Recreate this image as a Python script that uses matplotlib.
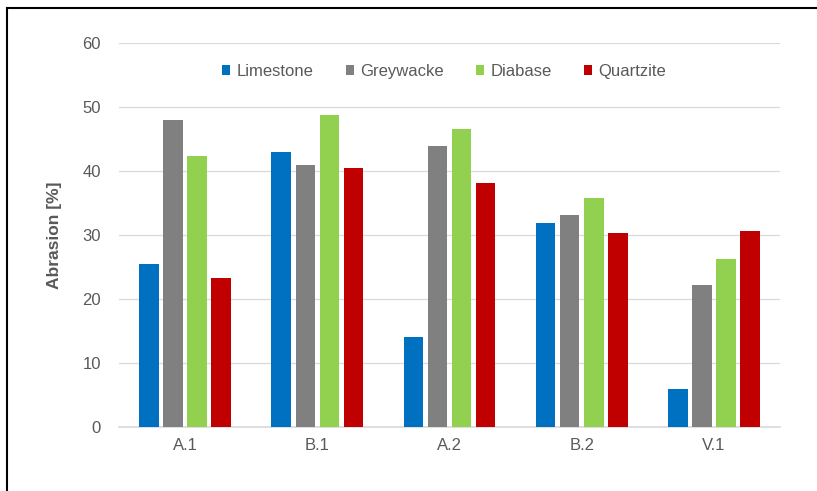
import matplotlib.pyplot as plt
import numpy as np
from matplotlib.patches import Rectangle

plt.rcParams['font.family'] = ['Liberation Sans', 'DejaVu Sans']

# abrasion results per test site
sites = ['A.1', 'B.1', 'A.2', 'B.2', 'V.1']
limestone = [25.5, 43.0, 14.1, 31.9, 5.9]
greywacke = [47.9, 41.0, 43.9, 33.2, 22.2]
diabase = [42.3, 48.8, 46.5, 35.8, 26.3]
quartzite = [23.3, 40.5, 38.2, 30.3, 30.7]

series = [
  ('Limestone', limestone, '#0070C0'),
  ('Greywacke', greywacke, '#808080'),
  ('Diabase', diabase, '#92D050'),
  ('Quartzite', quartzite, '#C00000'),
]

text_col = '#595959'
grid_col = '#D9D9D9'

fig = plt.figure(figsize=(8.17, 4.91), dpi=100)
ax = fig.add_axes([0.1457, 0.1303, 0.809, 0.7821])

x = np.arange(len(sites))
width = 0.148
step = 0.182
for i, (name, vals, col) in enumerate(series):
  offs = (i - 1.5) * step
  ax.bar(x + offs, vals, width, color=col, label=name, zorder=3)

ax.set_xlim(-0.5, len(sites) - 0.5)
ax.set_ylim(0, 60)
ax.set_yticks(range(0, 61, 10))
ax.set_xticks(x)
ax.set_xticklabels(sites)
ax.yaxis.grid(True, color=grid_col, lw=0.9, zorder=0)
ax.tick_params(axis='both', length=0, colors=text_col, labelsize=12)
ax.tick_params(axis='y', pad=13)
ax.tick_params(axis='x', pad=8)
for side in ['top', 'right', 'left']:
  ax.spines[side].set_visible(False)
ax.spines['bottom'].set_color(grid_col)
ax.spines['bottom'].set_linewidth(1.2)

ax.set_ylabel('Abrasion [%]', color=text_col, fontsize=12.5, fontweight='bold', labelpad=15)

ax.legend(loc='upper center', bbox_to_anchor=(0.492, 0.985), ncol=4, frameon=False,
          fontsize=12, labelcolor=text_col, handlelength=0.5, handleheight=0.5,
          handletextpad=0.4, columnspacing=1.9)

# chart frame, runs past the right and bottom edges
fig.patches.append(Rectangle((7 / 817, -0.1), 1.2, 1.1 - 8 / 491, transform=fig.transFigure,
                             fill=False, edgecolor='black', lw=1.5))

fig.savefig('out.png', dpi=100)
